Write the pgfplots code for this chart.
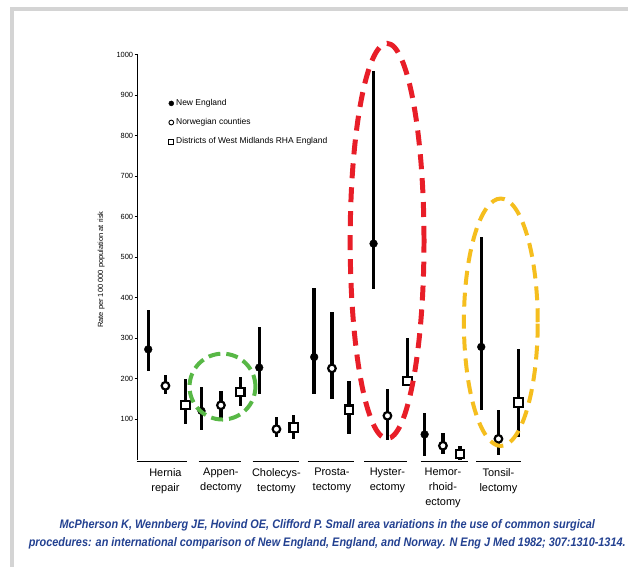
\documentclass[border=0pt]{standalone}
\usepackage{pgfplots}
\pgfplotsset{compat=1.18}
\usepackage{pgfplotstable}
\usepackage{fontspec}
\setmainfont{Liberation Sans}
\newfontfamily\capfont[FakeStretch=0.88]{Liberation Sans}
\definecolor{capblue}{RGB}{35,65,145}
\definecolor{ringred}{RGB}{232,30,40}
\definecolor{ringgreen}{RGB}{88,184,70}
\definecolor{ringyellow}{RGB}{245,190,30}
\definecolor{framegray}{RGB}{212,212,212}

% rate per 100 000 population at risk: median, lowest and highest district
\pgfplotstableread{
x     y    lo   hi
0.69  273  220  369
1.65  121  74   179
2.69  228  163  327
3.68  254  163  425
4.75  534  423  959
5.67  63   10   115
6.69  279  123  551
}\newengland
\pgfplotstableread{
x     y    lo   hi
1     183  162  209
2     135  99   169
3     76   57   105
4     226  150  364
5     109  50   175
6     35   15   66
7     52   11   124
}\norway
\pgfplotstableread{
x     y    lo   hi
1.36  136  89   199
2.35  168  134  205
3.31  80   52   111
4.31  124  64   195
5.36  195  183  302
6.31  15   0    34
7.36  142  56   275
}\westmidlands

\begin{document}
\begin{tikzpicture}[x=1pt,y=1pt]
\fill[white] (0,0) rectangle (629,-568);
\fill[framegray] (10,-7.5) rectangle (629,-11.5);
\fill[framegray] (10,-7.5) rectangle (14,-568);
\begin{axis}[
  at={(138pt,-461pt)}, anchor=south west,
  scale only axis, width=395pt, height=406pt,
  xmin=0.5, xmax=7.6, ymin=0, ymax=1000,
  clip=false,
  axis lines*=left,
  x axis line style={draw=none},
  y axis line style={line width=1.5pt},
  xtick={1,...,7},
  xticklabels={{Hernia\\repair},{Appen-\\dectomy},{Cholecys-\\tectomy},{Prosta-\\tectomy},{Hyster-\\ectomy},{Hemor-\\rhoid-\\ectomy},{Tonsil-\\lectomy}},
  xticklabel style={align=center, font=\fontsize{11}{15}\selectfont, yshift=-2pt},
  x tick style={draw=none},
  ytick={100,200,...,1000},
  y tick style={line width=1pt, black},
  tick align=outside, major tick length=3pt,
  yticklabel style={font=\fontsize{7.5}{9}\selectfont, xshift=2pt},
  /pgf/number format/assume math mode=true,
  /pgf/number format/1000 sep={},
  ylabel={Rate per 100 000 population at risk},
  ylabel style={font=\fontsize{7.5}{9}\selectfont, at={(axis description cs:-0.075,0.47)}},
  legend style={at={(0.07,0.90)}, anchor=north west, draw=none, fill=none,
    font=\fontsize{8.5}{10}\selectfont, row sep=7.5pt},
  legend cell align=left,
  error bars/y dir=both, error bars/y explicit,
  error bars/error mark=none,
  error bars/error bar style={line width=3.4pt, black},
]
\addplot[only marks, mark=*, mark size=3.9pt, black,
  legend image code/.code={\fill[black] (0.2cm,0) circle (2.5pt);}]
  table[x=x, y=y, y error plus expr=\thisrow{hi}-\thisrow{y}, y error minus expr=\thisrow{y}-\thisrow{lo}] {\newengland};
\addlegendentry{New England}
\addplot[only marks, mark=*, mark size=3.8pt, black, mark options={fill=white, line width=2.2pt},
  legend image code/.code={\draw[black, fill=white, line width=0.9pt] (0.2cm,0) circle (2.4pt);}]
  table[x=x, y=y, y error plus expr=\thisrow{hi}-\thisrow{y}, y error minus expr=\thisrow{y}-\thisrow{lo}] {\norway};
\addlegendentry{Norwegian counties}
\addplot[only marks, mark=square*, mark size=4.2pt, black, mark options={fill=white, line width=2.2pt, rounded corners=1.5pt},
  legend image code/.code={\draw[black, fill=white, line width=0.9pt] (0.2cm-2.4pt,-2.4pt) rectangle (0.2cm+2.4pt,2.4pt);}]
  table[x=x, y=y, y error plus expr=\thisrow{hi}-\thisrow{y}, y error minus expr=\thisrow{y}-\thisrow{lo}] {\westmidlands};
\addlegendentry{Districts of West Midlands RHA England}
% group underlines
\draw[line width=1.4pt] (axis cs:0.48,-4.2) -- (axis cs:1.38,-4.2);
\draw[line width=1.4pt] (axis cs:1.60,-4.2) -- (axis cs:2.37,-4.2);
\draw[line width=1.4pt] (axis cs:2.57,-4.2) -- (axis cs:3.41,-4.2);
\draw[line width=1.4pt] (axis cs:3.56,-4.2) -- (axis cs:4.39,-4.2);
\draw[line width=1.4pt] (axis cs:4.58,-4.2) -- (axis cs:5.36,-4.2);
\draw[line width=1.4pt] (axis cs:5.60,-4.2) -- (axis cs:6.45,-4.2);
\draw[line width=1.4pt] (axis cs:6.60,-4.2) -- (axis cs:7.41,-4.2);
\end{axis}
% highlight rings
\draw[ringred, line width=5pt, dash pattern=on 15pt off 9pt] (388,-241.5) ellipse [x radius=37pt, y radius=198pt];
\draw[ringgreen, line width=4pt, dash pattern=on 12pt off 6pt] (223,-387.5) ellipse [x radius=33pt, y radius=33pt];
\draw[ringyellow, line width=4pt, dash pattern=on 14pt off 8pt] (502,-323) ellipse [x radius=37pt, y radius=124pt];
% reference
\node[capblue, font=\capfont\bfseries\itshape\fontsize{12.4}{14}\selectfont] at (328,-527)
  {McPherson K, Wennberg JE, Hovind OE, Clifford P. Small area variations in the use of common surgical};
\node[capblue, font=\capfont\bfseries\itshape\fontsize{12.4}{14}\selectfont] at (328,-545)
  {procedures: an international comparison of New England, England, and Norway. N Eng J Med 1982; 307:1310-1314.};
\end{tikzpicture}
\end{document}
